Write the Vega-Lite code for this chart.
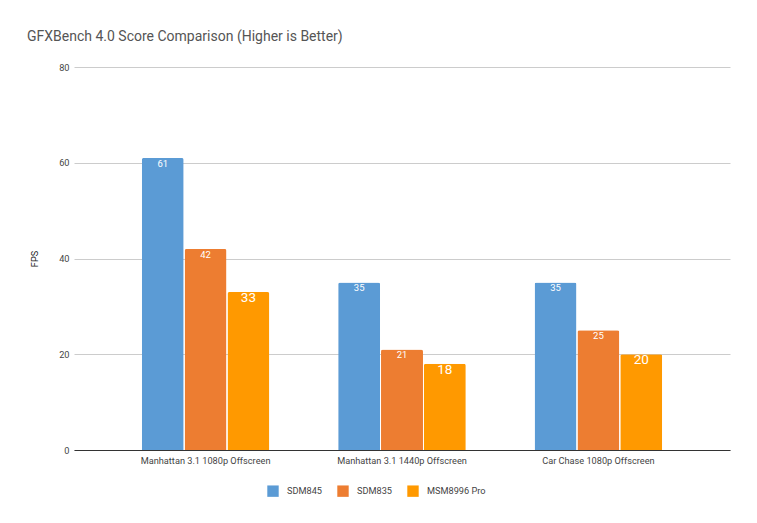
{
  "$schema": "https://vega.github.io/schema/vega-lite/v6.json",
  "autosize": {"type": "none"},
  "width": 656,
  "height": 383,
  "padding": {"left": 74, "top": 67, "right": 27, "bottom": 73},
  "background": "white",
  "title": {
    "text": "GFXBench 4.0 Score Comparison (Higher is Better)",
    "anchor": "start",
    "frame": "group",
    "dx": -47,
    "offset": 19,
    "fontSize": 14,
    "font": "Roboto",
    "fontWeight": "normal",
    "color": "#555555"
  },
  "config": {
    "font": "Roboto",
    "view": {"stroke": null}
  },
  "data": {
    "values": [
      {"test": "Manhattan 3.1 1080p Offscreen", "series": "SDM845", "fps": 61},
      {"test": "Manhattan 3.1 1080p Offscreen", "series": "SDM835", "fps": 42},
      {"test": "Manhattan 3.1 1080p Offscreen", "series": "MSM8996 Pro", "fps": 33},
      {"test": "Manhattan 3.1 1440p Offscreen", "series": "SDM845", "fps": 35},
      {"test": "Manhattan 3.1 1440p Offscreen", "series": "SDM835", "fps": 21},
      {"test": "Manhattan 3.1 1440p Offscreen", "series": "MSM8996 Pro", "fps": 18},
      {"test": "Car Chase 1080p Offscreen", "series": "SDM845", "fps": 35},
      {"test": "Car Chase 1080p Offscreen", "series": "SDM835", "fps": 25},
      {"test": "Car Chase 1080p Offscreen", "series": "MSM8996 Pro", "fps": 20}
    ]
  },
  "encoding": {
    "x": {
      "field": "test",
      "type": "nominal",
      "sort": null,
      "scale": {"paddingInner": 0.35, "paddingOuter": 0.345},
      "axis": {
        "title": null,
        "labelAngle": 0,
        "labelFontSize": 9.2,
        "labelColor": "#444444",
        "labelPadding": 6,
        "domainColor": "#333333",
        "ticks": false
      }
    },
    "xOffset": {
      "field": "series",
      "type": "nominal",
      "sort": ["SDM845", "SDM835", "MSM8996 Pro"],
      "scale": {"paddingInner": 0.02}
    },
    "y": {
      "field": "fps",
      "type": "quantitative",
      "scale": {"domain": [0, 80]},
      "axis": {
        "title": "FPS",
        "titleFontSize": 9.2,
        "titleFontWeight": "normal",
        "titleColor": "#222222",
        "titlePadding": 19,
        "values": [0, 20, 40, 60, 80],
        "labelFontSize": 9.2,
        "labelColor": "#444444",
        "labelPadding": 5,
        "domain": false,
        "ticks": false,
        "gridColor": "#cccccc"
      }
    }
  },
  "layer": [
    {
      "mark": {"type": "bar", "cornerRadiusTopLeft": 2, "cornerRadiusTopRight": 2},
      "encoding": {
        "color": {
          "field": "series",
          "type": "nominal",
          "sort": ["SDM845", "SDM835", "MSM8996 Pro"],
          "scale": {"domain": ["SDM845", "SDM835", "MSM8996 Pro"], "range": ["#5b9bd5", "#ed7d31", "#ff9900"]},
          "legend": {
            "title": null,
            "orient": "none",
            "direction": "horizontal",
            "legendX": 193,
            "legendY": 418,
            "symbolType": "square",
            "symbolSize": 130,
            "symbolStrokeWidth": 0,
            "labelFontSize": 9.2,
            "labelColor": "#444444",
            "columnPadding": 15,
            "labelOffset": 8
          }
        }
      }
    },
    {
      "mark": {"type": "text", "baseline": "middle", "color": "white"},
      "encoding": {
        "text": {"field": "fps", "type": "quantitative"},
        "size": {"condition": {"test": "datum.series === 'MSM8996 Pro'", "value": 13.5}, "value": 9.5},
        "yOffset": {"condition": {"test": "datum.series === 'MSM8996 Pro'", "value": 9}, "value": 6}
      }
    }
  ]
}
